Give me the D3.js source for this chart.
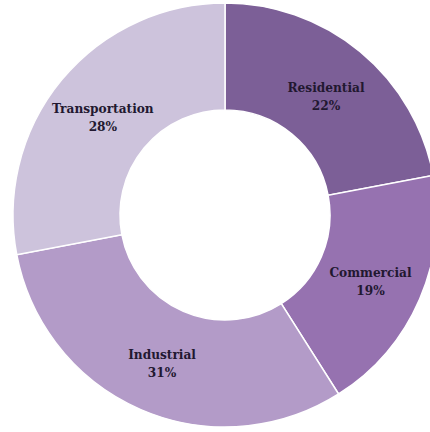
<html>
<head>
<meta charset="utf-8"/>
<style>
  body{margin:0;background:#fff;}
  .lbl{font-family:"DejaVu Serif Condensed","DejaVu Serif",serif;font-stretch:condensed;font-weight:bold;font-size:13.5px;fill:#221830;}
</style>
<script src="https://d3js.org/d3.v7.min.js"></script>
</head>
<body>
<svg id="chart" width="430" height="432"></svg>
<script>
// sectors, clockwise from 12 o'clock
var categories = ["Residential", "Commercial", "Industrial", "Transportation"];
var shares = [22, 19, 31, 28];
var colors = ["#7c5f97", "#9672b0", "#b39bc8", "#cdc3dc"];

var cx = 225, cy = 215, outerR = 212, innerR = 105;

var svg = d3.select("#chart");
var g = svg.append("g").attr("transform", "translate(" + cx + "," + cy + ")");

var pie = d3.pie().sort(null).value(function(d){ return d; });
var arc = d3.arc().innerRadius(innerR).outerRadius(outerR);
var slices = pie(shares);

g.selectAll("path.slice")
  .data(slices)
  .enter().append("path")
  .attr("class", "slice")
  .attr("d", arc)
  .attr("fill", function(d, i){ return colors[i]; })
  .attr("stroke", "#fff")
  .attr("stroke-width", 1.5);

var labels = g.selectAll("text.lbl")
  .data(slices)
  .enter().append("text")
  .attr("class", "lbl")
  .attr("text-anchor", "middle")
  .attr("transform", function(d){ var c = arc.centroid(d); return "translate(" + c[0] + "," + c[1] + ")"; });

labels.append("tspan")
  .attr("x", 0).attr("y", -1)
  .text(function(d, i){ return categories[i]; });
labels.append("tspan")
  .attr("x", 0).attr("y", 17)
  .text(function(d){ return d.data + "%"; });
</script>
</body>
</html>
